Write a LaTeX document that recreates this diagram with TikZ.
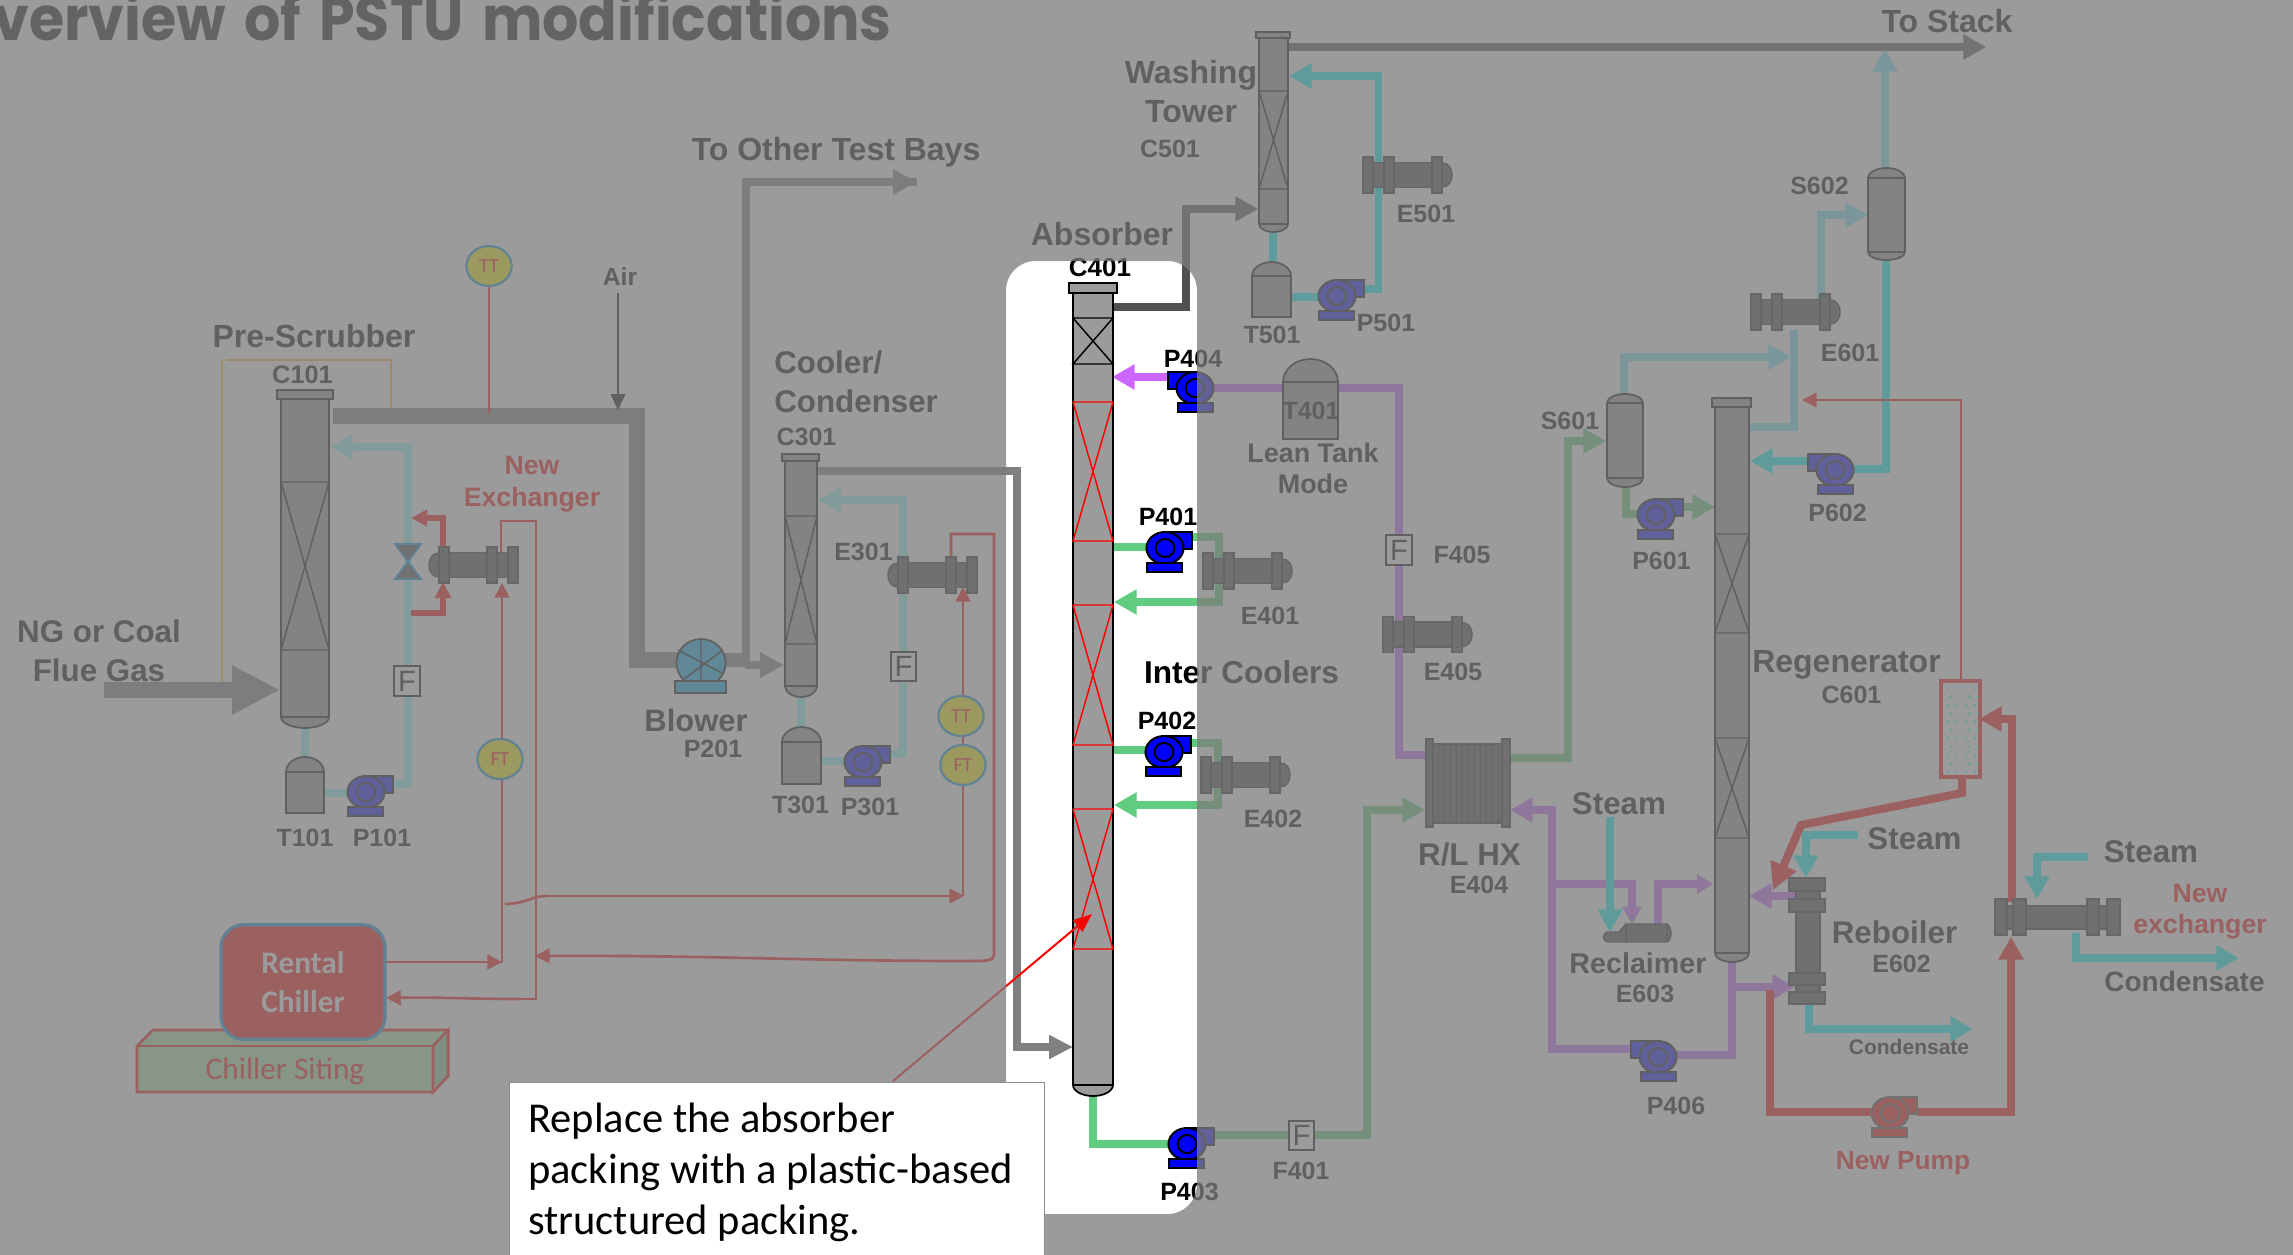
\documentclass[tikz,border=0pt]{standalone}
\usepackage{fontspec}
\setmainfont{Liberation Sans}
\newfontfamily\gothic{Poppins}
\newfontfamily\carl{Carlito}
\usetikzlibrary{arrows.meta,shapes.geometric}
\definecolor{ovc}{RGB}{125,125,125}
\definecolor{gasM}{RGB}{128,128,128}
\definecolor{gasD}{RGB}{80,80,80}
\definecolor{teal1}{RGB}{0,255,255}
\definecolor{teal2}{RGB}{148,255,255}
\definecolor{blue2}{RGB}{113,235,255}
\definecolor{purp}{RGB}{204,102,255}
\definecolor{grn}{RGB}{96,204,128}
\definecolor{vesf}{RGB}{155,155,155}
\definecolor{hxf}{RGB}{70,70,70}
\definecolor{hxd}{RGB}{30,30,30}
\definecolor{instb}{RGB}{0,150,220}
\definecolor{blow}{RGB}{0,176,240}
\definecolor{sitef}{RGB}{170,235,170}
\definecolor{oran}{RGB}{255,180,60}
\tikzset{
  ves/.style={draw=black,fill=vesf,line width=1.3pt},
  hx/.style={draw=hxd,fill=hxf,line width=1.1pt},
  pp/.style={line width=5.6pt,draw=#1},
  thr/.style={line width=2pt,draw=red},
  arr/.style={-{Triangle[length=17pt,width=18pt]}},
  arrs/.style={-{Triangle[length=11pt,width=11pt]}},
  lb/.style={anchor=base,inner sep=0pt,font=\bfseries\fontsize{#1}{#1}\selectfont},
  inst/.style={ellipse,draw=instb,fill=yellow,line width=1.6pt,minimum width=34pt,minimum height=30pt,inner sep=0pt,text=red,font=\carl\fontsize{15}{15}\selectfont},
  fbox/.style={draw=black,fill=white,line width=1.3pt,minimum width=19pt,minimum height=22pt,inner sep=0pt,font=\fontsize{22}{22}\selectfont},
  pump/.pic={
    \draw[pic actions] (0,-16) rectangle (27,1);
    \draw[pic actions] (0,0) ellipse [x radius=13.9pt,y radius=12pt];
    \draw[pic actions] (0,0) ellipse [x radius=7pt,y radius=6.8pt];
    \draw[pic actions] (-18,15) rectangle (17,24);
  },
  shx/.pic={
    \draw[hx] (0,-12.5) rectangle (79,12.5);
    \draw[hx] (79,-12) .. controls (85.5,-12) and (89,-6.6) .. (89,0) .. controls (89,6.6) and (85.5,12) .. (79,12) -- cycle;
    \draw[hx] (0,-18) rectangle (10,18);
    \draw[hx] (21,-18) rectangle (31,18);
    \draw[hx] (69,-18) rectangle (79,18);
  },
}
\newcommand\Shell[6]{%
  \pgfmathsetmacro\vmx{(#1+#2)/2}\pgfmathsetmacro\vrx{(#2-#1)/2*.55}%
  \draw[ves] (#1,#4) .. controls (#1,{#4+.55*(#3-#4)}) and ({\vmx-\vrx},#3) .. (\vmx,#3)
    .. controls ({\vmx+\vrx},#3) and (#2,{#4+.55*(#3-#4)}) .. (#2,#4) -- (#2,#5)
    .. controls (#2,{#5+.55*(#6-#5)}) and ({\vmx+\vrx},#6) .. (\vmx,#6)
    .. controls ({\vmx-\vrx},#6) and (#1,{#5+.55*(#6-#5)}) .. (#1,#5) -- cycle;
  \draw[ves,fill=none] (#1,#4) -- (#2,#4) (#1,#5) -- (#2,#5);}
\newcommand\Pack[5]{\draw[line width=1.1pt,draw=#5] (#1,#3) -- (#2,#3) -- (#1,#4) -- (#2,#4) -- (#1,#3);}
\begin{document}
\begin{tikzpicture}[x=.75pt,y=-.75pt]
\useasboundingbox (0,0) rectangle (2293,1254);
\fill[white] (0,0) rectangle (2293,1254);

% title
\node[anchor=base east,inner sep=0pt,font=\gothic\bfseries\fontsize{46}{46}\selectfont,text=black!95] (title) at (892,40) {\scalebox{.93}[1]{verview\hspace{5pt} of\hspace{5pt} PSTU\hspace{5pt} modifications}};

% orange line
\draw[oran,line width=1.2pt] (222,687) -- (222,360) (226,360) -- (391,360) -- (391,410);

% gas pipes
\draw[gasM,line width=12pt,-{Triangle[length=36pt,width=34.5pt]}] (104,690) -- (280,690);
\draw[gasM,line width=11.5pt] (333,416) -- (637,416) -- (637,660) -- (690,660);
\draw[gasM,line width=11pt] (720,660) -- (750,660);
\draw[pp=gasM] (746,660) -- (746,182) -- (917,182);
\draw[gasM,line width=6pt,-{Triangle[length=18pt,width=18pt]}] (745,665) -- (784,665);
\draw[gasM,pp=gasM,-{Triangle[length=18pt,width=18pt]}] (746,182) -- (917,182);
\draw[black,line width=1.1pt,-{Triangle[length=12pt,width=11pt]}] (618,293) -- (618,410);
\draw[pp=gasM,-{Triangle[length=18pt,width=17pt]}] (817,471) -- (1017,471) -- (1017,1047) -- (1073,1047);
\draw[pp=gasD,arr] (1113,307) -- (1186,307) -- (1186,209) -- (1258,209);
\draw[pp=gasD,arr] (1288,47) -- (1986,47);

% teal loops
\draw[pp=teal2] (305,728) -- (305,757) (324,793) -- (348,793);
\draw[pp=teal2,arr] (393,784) -- (408,784) -- (408,447) -- (330,447);
\draw[pp=teal2] (801,697) -- (801,727) (821,761) -- (845,761);
\draw[pp=teal2,arr] (891,754) -- (903,754) -- (903,500) -- (818,500);
\draw[pp=teal1] (1273,232) -- (1273,262) (1291,297) -- (1318,297);
\draw[pp=teal1,arr] (1365,289) -- (1378.5,289) -- (1378.5,76) -- (1289,76);

% green lines
\draw[pp=grn] (1113,547) -- (1146,547) (1113,750) -- (1146,750);
\draw[pp=grn,arr] (1192,537) -- (1219,537) -- (1219,602) -- (1114,602);
\draw[pp=grn,arr] (1191,743) -- (1218,743) -- (1218,805) -- (1114,805);
\draw[pp=grn] (1093,1096) -- (1093,1144) -- (1170,1144);
\draw[pp=grn,arr] (1214,1135) -- (1367,1135) -- (1367,810) -- (1425,810);
\draw[pp=grn,arr] (1510,758) -- (1568,758) -- (1568,441) -- (1606,441);
\draw[pp=grn] (1626,487) -- (1626,514) -- (1640,514);
\draw[pp=grn,arr] (1683,507) -- (1715,507);

% purple lines
\draw[pp=purp,arr] (1168,377) -- (1112,377);
\draw[pp=purp] (1213,388) -- (1399,388) -- (1399,755) -- (1426,755);
\draw[pp=purp] (1732,962) -- (1732,1055) -- (1676,1055);
\draw[pp=purp,arr] (1732,987) -- (1795,987);
\draw[pp=purp,arr] (1630,1049) -- (1552,1049) -- (1552,810) -- (1510,810);
\draw[pp=purp,-{Triangle[length=13pt,width=14pt]}] (1552,884) -- (1632,884) -- (1632,924);
\draw[pp=purp,-{Triangle[length=12pt,width=14pt]}] (1658,925) -- (1658,884) -- (1713,884);
\draw[pp=purp,arr] (1796,896) -- (1749,896);

% regenerator overhead
\draw[pp=blue2,arr] (1885,168) -- (1885,49);
\draw[pp=blue2,arr] (1821,301) -- (1821,215) -- (1868,215);
\draw[pp=blue2] (1794,330) -- (1794,427) -- (1747,427);
\draw[pp=blue2,arr] (1624,394) -- (1624,357) -- (1791,357);
\draw[pp=teal1] (1854,469) -- (1886,469) -- (1886,260);
\draw[pp=teal1,arr] (1808,461) -- (1750,461);

% steam, condensate
\draw[pp=teal1,arr] (1610,817) -- (1610,932);
\draw[pp=teal1,arr] (1858,835) -- (1806,835) -- (1806,878);
\draw[pp=teal1,arr] (2088,857) -- (2037,857) -- (2037,899);
\draw[pp=teal1,arr] (2076,933) -- (2076,958) -- (2239,958);
\draw[pp=teal1,arr] (1809,1003) -- (1809,1029) -- (1973,1029);

% thick red
\draw[red,line width=4.5pt,-{Triangle[length=12pt,width=12pt]}] (443,547) -- (443,518) -- (411,518);
\draw[red,line width=4.5pt,-{Triangle[length=12pt,width=12pt]}] (411,613) -- (443,613) -- (443,582);
\draw[pp=red,arr] (2012,902) -- (2012,719) -- (1979,719);
\draw[red,line width=6pt,-{Triangle[length=20pt,width=20pt]}] (1962,777) -- (1962,793) -- (1801,825) -- (1773,890);
\draw[pp=red] (1770,990) -- (1770,1112) -- (1872,1112);
\draw[pp=red,arr] (1917,1112) -- (2011,1112) -- (2011,937);

% thin red
\draw[thr] (489,287) -- (489,414);
\draw[thr] (501,552) -- (501,521) -- (536,521) -- (536,999) -- (520,999);
\draw[thr,arrs] (520,999) .. controls (470,999) and (440,997) .. (386,998);
\draw[thr,arrs] (502,963) -- (502,583);
\draw[thr,arrs] (386,962) -- (502,962);
\draw[thr] (505,904) .. controls (530,903) and (530,896) .. (547,896);
\draw[thr,arrs] (547,896) -- (964,896);
\draw[thr,arrs] (963,896) -- (963,587);
\draw[thr] (951,561) -- (951,534) -- (994,534) -- (994,955) .. controls (994,961) and (985,961) .. (970,961);
\draw[thr,arrs] (970,961) .. controls (800,961) and (700,955) .. (535,956);
\draw[thr,arrs] (1961,680) -- (1961,400) -- (1802,400);

% vessels
\Shell{281}{329}{399}{399}{717}{728}
\draw[ves] (277,390) rectangle (333,399);
\Pack{281}{329}{482}{650}{black}
\Shell{785}{817}{461}{461}{686}{697}
\draw[ves] (782,454) rectangle (819,461);
\Pack{785}{817}{516}{644}{black}
\Shell{1259}{1288}{38}{38}{224}{232}
\draw[ves] (1256,32) rectangle (1290,38);
\Pack{1259}{1288}{91}{189}{black}
\Shell{1073}{1113}{293}{293}{1085}{1096}
\draw[ves] (1069,283) rectangle (1117,293);
\Pack{1073}{1113}{318}{364}{black}
\Pack{1073}{1113}{402}{541}{red}
\Pack{1073}{1113}{605}{745}{red}
\Pack{1073}{1113}{809}{949}{red}
\Shell{1715}{1749}{407}{407}{953}{962}
\draw[ves] (1712,398) rectangle (1751,407);
\Pack{1715}{1749}{534}{633}{black}
\Pack{1715}{1749}{738}{838}{black}
% tanks
\Shell{286}{324}{757}{772}{813}{813}
\Shell{782}{821}{727}{742}{784}{784}
\Shell{1252}{1291}{262}{276}{317}{317}
\Shell{1283}{1338}{359}{382}{439}{439}
\Shell{1868}{1905}{168}{178}{252}{260}
\Shell{1607}{1643}{394}{403}{478}{487}

% pumps
\pic[draw=black,fill=blue,line width=1.5pt] at (366,792) {pump};
\pic[draw=black,fill=blue,line width=1.5pt] at (863,762) {pump};
\pic[draw=black,fill=blue,line width=1.5pt] at (1337,296) {pump};
\pic[draw=black,fill=blue,line width=1.5pt] at (1165,548) {pump};
\pic[draw=black,fill=blue,line width=1.5pt] at (1164,752) {pump};
\pic[draw=black,fill=blue,line width=1.5pt] at (1187,1144) {pump};
\pic[draw=black,fill=blue,line width=1.5pt,xscale=-1] at (1195,388) {pump};
\pic[draw=black,fill=blue,line width=1.5pt] at (1656,515) {pump};
\pic[draw=black,fill=blue,line width=1.5pt,xscale=-1] at (1835,470) {pump};
\pic[draw=black,fill=blue,line width=1.5pt,xscale=-1] at (1658,1057) {pump};
\pic[draw=black!70,fill=red,line width=1.5pt] at (1890,1113) {pump};

% blower
\draw[black,fill=blow,line width=1.3pt] (701,663) ellipse [x radius=18.4pt,y radius=18pt];
\draw[black,line width=1.1pt] (701,639) -- (701,681) (678,650) -- (722,673) (723,650) -- (684,679);
\draw[black,fill=blow,line width=1.3pt] (675,681) rectangle (726,693);

% valve
\draw[instb,fill=hxf,line width=1.4pt] (395,544) -- (421,544) -- (395,579) -- (421,579) -- cycle;

% exchangers
\pic at (1363,175) {shx};
\pic at (1203,571) {shx};
\pic at (1201,775) {shx};
\pic at (1383,634.5) {shx};
\pic at (1751,312) {shx};
\pic[xscale=-1] at (518,565) {shx};
\pic[xscale=-1] at (977,575) {shx};
% R/L HX
\draw[hx] (1433,744) rectangle (1502,823);
\foreach \gx in {1438,1444,...,1498} \draw[hxd,line width=.7pt] (\gx,744) -- (\gx,823);
\draw[hx] (1426,739) rectangle (1433,827);
\draw[hx] (1502,739) rectangle (1510,827);
% new exchanger right
\draw[hx] (1995,906) rectangle (2120,929);
\draw[hx] (1995,899) rectangle (2007,935);
\draw[hx] (2013,899) rectangle (2026,935);
\draw[hx] (2087,899) rectangle (2099,935);
\draw[hx] (2107,899) rectangle (2120,935);
% reboiler
\draw[hx] (1796,878) rectangle (1820,1004);
\draw[hx] (1789,878) rectangle (1825,891);
\draw[hx] (1789,899) rectangle (1825,912);
\draw[hx] (1789,973) rectangle (1825,985);
\draw[hx] (1789,992) rectangle (1825,1004);
% reclaimer
\draw[hx] (1619,932) -- (1626,924) -- (1667,924) .. controls (1670,926) and (1671,930) .. (1671,933) .. controls (1671,937) and (1670,940) .. (1667,942) -- (1608,942) .. controls (1602,942) and (1602,932) .. (1608,932) -- cycle;
\draw[hxd,line width=.8pt] (1626,924) -- (1626,942) (1667,924) -- (1667,942);

% packed box
\draw[red,fill=white,line width=3pt] (1941,681) rectangle (1980,777);
\foreach \gi in {0,...,10}{\foreach \gj in {0,1,2,3}{
  \fill[teal1] ({1948+\gj*9+mod(\gi,2)*3},{688+\gi*8.4}) circle (.9pt);}}

% F boxes
\node[fbox] (F101) at (407,681) {F};
\node[fbox] (F301) at (903.5,666.5) {F};
\node[fbox] (F401) at (1301.5,1135.5) {F};
\node[fbox] (F405) at (1399,550) {F};

% instruments
\node[inst] (TT1) at (489,266) {TT};
\node[inst] (FT1) at (500,759) {FT};
\node[inst] (TT2) at (961,716) {TT};
\node[inst] (FT2) at (963,765) {FT};

% chiller
\draw[red,fill=sitef,line width=2pt] (137,1046) -- (153,1030) -- (448,1030) -- (448,1076) -- (433,1092) -- (137,1092) -- cycle;
\draw[red,fill=sitef!85!black,line width=2pt] (433,1046) -- (448,1030) -- (448,1076) -- (433,1092) -- cycle;
\draw[red,line width=2pt] (137,1046) -- (433,1046);
\node[draw=instb,fill=red,line width=2.4pt,rounded corners=17pt,minimum width=123pt,minimum height=86pt,inner sep=0pt,align=center,text=white,font=\carl\bfseries\fontsize{23.5}{29}\selectfont] (Chiller) at (303,982) {Rental\\Chiller};
\node[anchor=base,inner sep=0pt,text=red,font=\carl\fontsize{23.5}{23.5}\selectfont] (Siting) at (285,1079.5) {Chiller Siting};

% red pointer
\draw[red,line width=1.5pt,-{Triangle[length=14pt,width=11pt]}] (893,1081) -- (1092,914);

% labels
\node[lb=24] (lPre) at (314,347) {Pre-Scrubber};
\node[lb=19] (lC101) at (302.5,383) {C101};
\node[lb=23.5] (lNG) at (99,642) {NG or Coal};
\node[lb=23.5] (lFlue) at (99,681.5) {Flue Gas};
\node[lb=18.5] (lAir) at (620,285) {Air};
\node[lb=18.75] (lT101) at (305,846) {T101};
\node[lb=18.75] (lP101) at (382,846) {P101};
\node[lb=20,text=red] (lNew1) at (532,474) {New};
\node[lb=20,text=red] (lEx1) at (532,506) {Exchanger};
\node[lb=24] (lBays) at (836,160) {To Other Test Bays};
\node[lb=23.5,anchor=base west] (lCool) at (774,373) {Cooler/};
\node[lb=23.5,anchor=base west] (lCond) at (774,412) {Condenser};
\node[lb=18.75] (lC301) at (806.5,445) {C301};
\node[lb=18.75] (lE301) at (863.5,560) {E301};
\node[lb=23.2] (lBlow) at (696,731) {Blower};
\node[lb=18.75] (lP201) at (713,757) {P201};
\node[lb=18.75] (lT301) at (800.5,813) {T301};
\node[lb=18.75] (lP301) at (870,815) {P301};
\node[lb=24] (lAbs) at (1102,245) {Absorber};
\node[lb=19.5] (lC401) at (1100,276) {C401};
\node[lb=18.75] (lP404) at (1193,367) {P404};
\node[lb=18.75] (lP401) at (1168,525) {P401};
\node[lb=18.75] (lP402) at (1167,729) {P402};
\node[lb=18.75] (lP403) at (1189.5,1200) {P403};
\node[lb=23.7] (lInter) at (1241.5,683) {Inter Coolers};
\node[lb=24] (lWash) at (1191,83) {Washing};
\node[lb=24] (lTow) at (1191,122) {Tower};
\node[lb=18.75] (lC501) at (1170,157) {C501};
\node[lb=18.75] (lE501) at (1426,222) {E501};
\node[lb=18.75] (lP501) at (1386,331) {P501};
\node[lb=18.75] (lT501) at (1272,343) {T501};
\node[lb=18.75] (lT401) at (1311,419) {T401};
\node[lb=20.2] (lLean) at (1313,462) {Lean Tank};
\node[lb=20.2] (lMode) at (1313,493) {Mode};
\node[lb=18.75] (lE401) at (1270,624) {E401};
\node[lb=18.75] (lE402) at (1273,827) {E402};
\node[lb=18.75] (lF405) at (1462,563) {F405};
\node[lb=18.75] (lE405) at (1453,680) {E405};
\node[lb=18.75] (lF401) at (1301,1179) {F401};
\node[lb=23.5] (lRL) at (1469.5,865) {R/L HX};
\node[lb=18.75] (lE404) at (1479,893) {E404};
\node[lb=24] (lStack) at (1947,32) {To Stack};
\node[lb=18.75] (lS602) at (1819.5,194) {S602};
\node[lb=18.75] (lE601) at (1850,361) {E601};
\node[lb=18.75] (lS601) at (1570,429) {S601};
\node[lb=18.75] (lP601) at (1661.5,569) {P601};
\node[lb=18.75] (lP602) at (1837.5,521) {P602};
\node[lb=24] (lRegen) at (1846.5,672) {Regenerator};
\node[lb=18.75] (lC601) at (1851.5,703) {C601};
\node[lb=23.5] (lSt1) at (1619,814.5) {Steam};
\node[lb=23.5] (lSt2) at (1914.5,849) {Steam};
\node[lb=23.5] (lSt3) at (2151,862) {Steam};
\node[lb=21.5] (lRecl) at (1638,973.5) {Reclaimer};
\node[lb=18.75] (lE603) at (1645,1002) {E603};
\node[lb=23.5] (lReb) at (1894.5,943.5) {Reboiler};
\node[lb=18.75] (lE602) at (1901.5,972) {E602};
\node[lb=15.75] (lCond1) at (1909,1054) {Condensate};
\node[lb=18.75] (lP406) at (1676,1114) {P406};
\node[lb=19.7,text=red] (lNP) at (1903,1169) {New Pump};
\node[lb=20,text=red] (lNew2) at (2200,902) {New};
\node[lb=20,text=red] (lEx2) at (2200,933) {exchanger};
\node[lb=21] (lCond2) at (2184.5,991) {Condensate};

% dimming layer with clear window
\fill[ovc,fill opacity=.77,even odd rule] (-5,-5) rectangle (2300,1260) [rounded corners=22pt] (1006,261) rectangle (1197,1214);

% callout
\node[draw=black!45,fill=white,line width=.8pt,anchor=north west,inner sep=0pt,minimum width=401pt,minimum height=135pt] (Callout) at (509,1082) {};
\node[anchor=north west,inner sep=0pt,align=left,font=\carl\fontsize{31.9}{38.25}\selectfont] (CalloutText) at (528,1103) {Replace the absorber\\packing with a plastic-based\\structured packing.};
\end{tikzpicture}
\end{document}
